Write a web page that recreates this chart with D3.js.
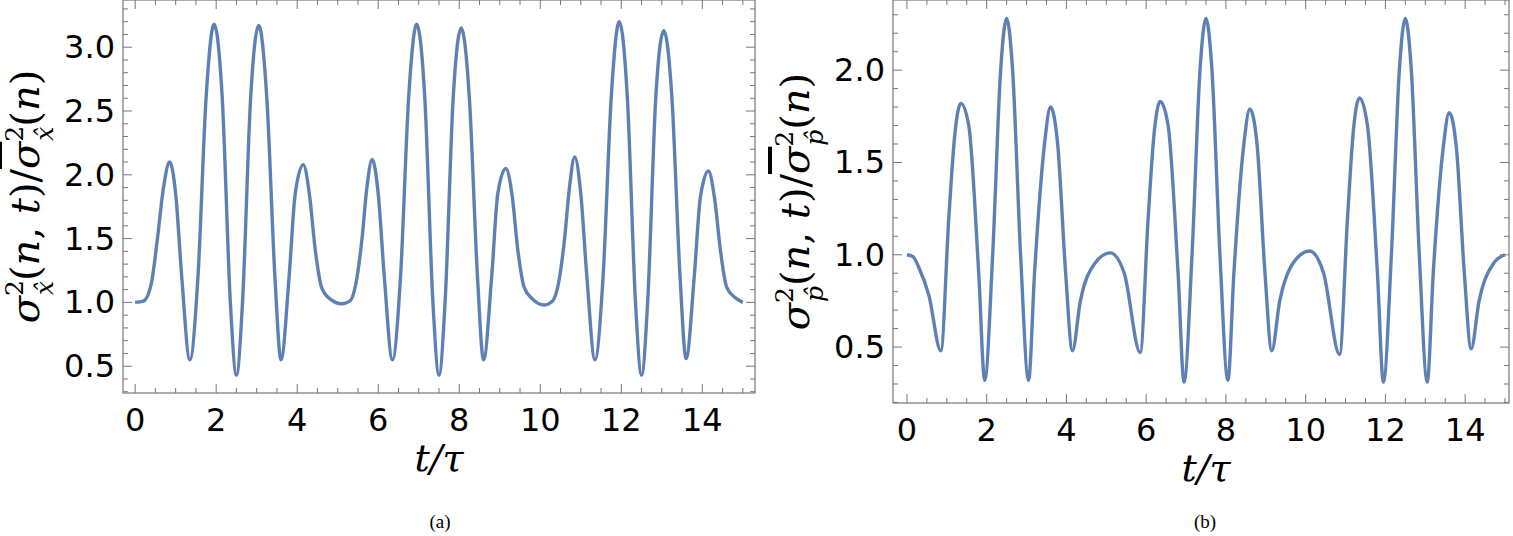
<!DOCTYPE html>
<html><head><meta charset="utf-8">
<script src="https://cdn.jsdelivr.net/npm/d3@7"></script>
<style>body{margin:0;background:#fff;font-family:"DejaVu Sans",sans-serif}</style>
</head><body><svg id="c" width="1513" height="536"></svg>
<script>
// panel (a): sigma_x ratio
const tA = [0,0.2,0.4,0.55,0.7,0.85,1.0,1.15,1.35,1.55,1.75,1.95,2.15,2.35,2.5,2.65,2.85,3.05,3.25,3.45,3.6,3.8,3.95,4.15,4.3,4.45,4.6,4.8,5.1,5.3,
  5.45,5.6,5.72,5.85,6.0,6.15,6.35,6.55,6.75,6.95,7.15,7.35,7.5,7.65,7.85,8.05,8.25,8.45,8.6,8.8,8.95,9.15,9.3,9.45,9.6,9.8,10.1,10.3,
  10.45,10.6,10.72,10.85,11.0,11.15,11.35,11.55,11.75,11.95,12.15,12.35,12.5,12.65,12.85,13.05,13.25,13.45,13.6,13.8,13.95,14.15,14.3,14.45,14.6,14.8,15.0];
const yA = [1.0,1.01,1.15,1.5,1.9,2.1,1.85,1.2,0.55,1.2,2.6,3.18,2.6,1.0,0.43,1.0,2.6,3.17,2.6,1.2,0.55,1.2,1.85,2.08,1.85,1.4,1.12,1.03,0.99,1.01,
  1.15,1.5,1.9,2.12,1.85,1.2,0.55,1.2,2.6,3.18,2.6,1.0,0.43,1.0,2.6,3.15,2.6,1.2,0.55,1.2,1.85,2.05,1.85,1.4,1.12,1.03,0.98,1.01,
  1.15,1.5,1.9,2.14,1.85,1.2,0.55,1.2,2.6,3.2,2.6,1.0,0.43,1.0,2.6,3.13,2.6,1.2,0.56,1.2,1.82,2.03,1.82,1.4,1.12,1.04,1.0];
// panel (b): sigma_p ratio
const tB = [0,0.15,0.3,0.55,0.85,1.05,1.2,1.35,1.55,1.8,1.95,2.15,2.35,2.5,2.65,2.85,3.05,3.2,3.45,3.6,3.78,3.98,4.15,4.35,4.7,5.1,5.45,5.85,
  6.05,6.2,6.35,6.55,6.8,6.95,7.15,7.35,7.5,7.65,7.85,8.05,8.2,8.45,8.6,8.78,8.98,9.15,9.35,9.7,10.1,10.45,10.85,
  11.05,11.2,11.35,11.55,11.8,11.95,12.15,12.35,12.5,12.65,12.85,13.05,13.2,13.45,13.6,13.78,13.98,14.15,14.35,14.7,15.0];
const yB = [1.0,0.99,0.93,0.78,0.48,1.2,1.65,1.82,1.7,0.9,0.32,1.0,2.0,2.28,2.0,1.0,0.32,0.9,1.6,1.8,1.6,0.9,0.48,0.75,0.95,1.01,0.9,0.47,
  1.2,1.66,1.83,1.7,0.9,0.31,1.0,2.0,2.28,2.0,1.0,0.32,0.9,1.6,1.79,1.6,0.9,0.48,0.75,0.96,1.02,0.9,0.46,
  1.2,1.68,1.85,1.7,0.9,0.31,1.0,2.0,2.28,2.0,1.0,0.31,0.9,1.58,1.77,1.58,0.9,0.49,0.75,0.95,1.0];

const xTicks = [0,2,4,6,8,10,12,14];
const panels = [
  {t:tA, y:yA, box:[123,0,755,393], xd:[-0.3,15.3], yd:[0.29,3.37], yTicks:[0.5,1.0,1.5,2.0,2.5,3.0], minor:0.1, sub:"x̂", tag:"(a)", tagX:440},
  {t:tB, y:yB, box:[893,0,1509,403], xd:[-0.35,15.1], yd:[0.197,2.38], yTicks:[0.5,1.0,1.5,2.0], minor:0.1, sub:"p̂", tag:"(b)", tagX:1205}
];

const svg = d3.select("#c");
const frame = "#777";

panels.forEach(p => {
  const [x0,y0,x1,y1] = p.box;
  const x = d3.scaleLinear().domain(p.xd).range([x0,x1]);
  const y = d3.scaleLinear().domain(p.yd).range([y1,y0]);
  const g = svg.append("g");
  g.append("rect").attr("x",x0).attr("y",y0).attr("width",x1-x0).attr("height",y1-y0)
    .attr("fill","none").attr("stroke",frame).attr("stroke-width",1.2);

  const xMinor = d3.range(0,15.01,0.5);
  const yMinor = d3.range(Math.ceil(p.yd[0]*10)/10, p.yd[1], p.minor);
  xMinor.forEach(v => {
    const major = Math.abs(v/2-Math.round(v/2))<1e-6;
    const L = major?9:5;
    g.append("line").attr("x1",x(v)).attr("x2",x(v)).attr("y1",y1).attr("y2",y1-L).attr("stroke",frame);
    g.append("line").attr("x1",x(v)).attr("x2",x(v)).attr("y1",y0).attr("y2",y0+L).attr("stroke",frame);
  });
  yMinor.forEach(v => {
    const major = Math.abs(v*2-Math.round(v*2))<1e-6;
    const L = major?9:5;
    g.append("line").attr("y1",y(v)).attr("y2",y(v)).attr("x1",x0).attr("x2",x0+L).attr("stroke",frame);
    g.append("line").attr("y1",y(v)).attr("y2",y(v)).attr("x1",x1).attr("x2",x1-L).attr("stroke",frame);
  });

  g.selectAll(".xl").data(xTicks).enter().append("text")
    .attr("x",d=>x(d)).attr("y",y1+38).attr("text-anchor","middle")
    .attr("font-size",32).text(d=>d);
  g.selectAll(".yl").data(p.yTicks).enter().append("text")
    .attr("x",x0-8).attr("y",d=>y(d)+11).attr("text-anchor","end")
    .attr("font-size",32).text(d=>d.toFixed(1));

  const line = d3.line().x((d,i)=>x(p.t[i])).y(d=>y(d)).curve(d3.curveMonotoneX);
  g.append("path").attr("d",line(p.y)).attr("fill","none")
    .attr("stroke","#5e81b5").attr("stroke-width",3.4);

  // x title
  g.append("text").attr("x",(x(0)+x(15))/2).attr("y",y1+78).attr("text-anchor","middle")
    .attr("font-size",38).attr("font-family","DejaVu Serif").attr("font-style","italic").text("t/τ");

  // y title
  const cy = (y0+y1)/2;
  const yt = g.append("text").attr("transform",`translate(${x0-84},${cy}) rotate(-90)`)
    .attr("text-anchor","middle").attr("font-size",40).attr("font-family","DejaVu Serif");
  const parts = () => {
    yt.append("tspan").attr("font-size",25).attr("dy",-16).text("2");
    yt.append("tspan").attr("font-size",25).attr("font-style","italic").attr("dx",-15).attr("dy",30).text(p.sub);
    yt.append("tspan").attr("dy",-14).text("(");
  };
  yt.append("tspan").attr("font-style","italic").text("σ");
  parts();
  yt.append("tspan").attr("font-style","italic").text("n");
  yt.append("tspan").text(", ");
  yt.append("tspan").attr("font-style","italic").text("t");
  yt.append("tspan").text(")/");
  yt.append("tspan").attr("font-style","italic").attr("text-decoration","overline").text("σ");
  parts();
  yt.append("tspan").attr("font-style","italic").text("n");
  yt.append("tspan").text(")");

  svg.append("text").attr("x",p.tagX).attr("y",528).attr("text-anchor","middle")
    .attr("font-size",19).attr("font-family","Liberation Serif").text(p.tag);
});
</script></body></html>
